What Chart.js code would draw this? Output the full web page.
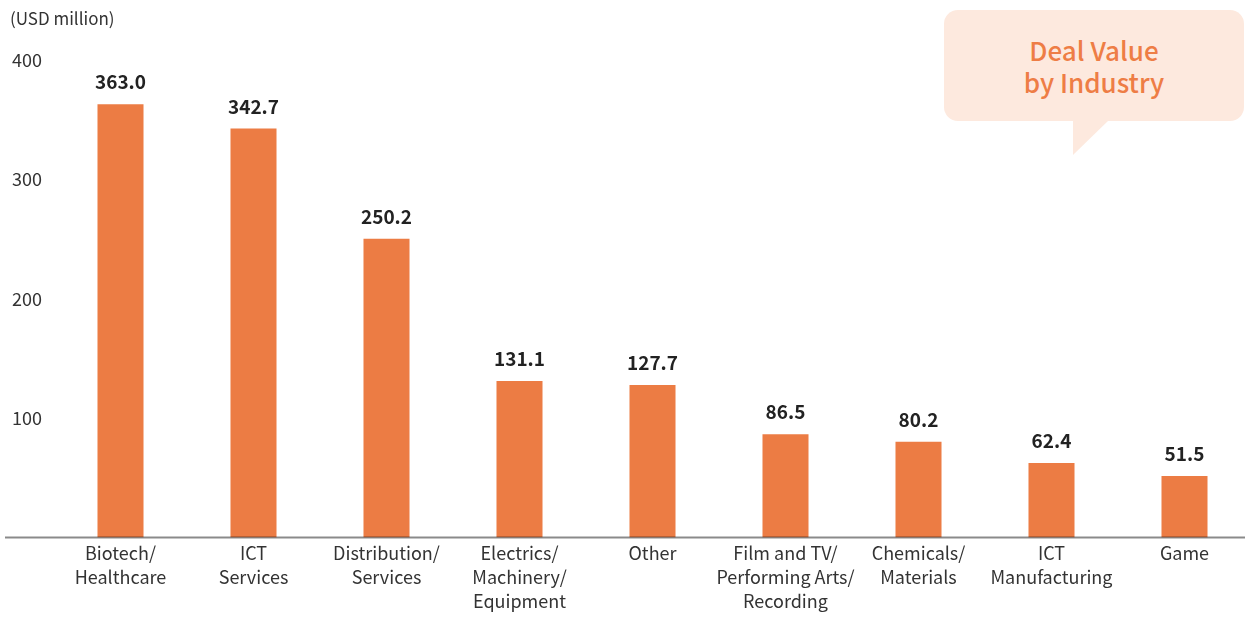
<!DOCTYPE html>
<html>
<head>
<meta charset="utf-8">
<script src="https://cdn.jsdelivr.net/npm/chart.js@4.4.0/dist/chart.umd.min.js"></script>
<style>
    html, body { margin: 0; padding: 0; background: #fff; overflow: hidden; }
    #wrap { position: relative; width: 1251px; height: 617px; }
    #unit {
        position: absolute; left: 10px; top: 5px;
        font: 17px "Noto Sans CJK JP", "Noto Sans", sans-serif; color: #333;
    }
    #callout {
        position: absolute; left: 944px; top: 10px; width: 300px; height: 111px;
        background: #fde9de; border-radius: 14px;
        display: flex; align-items: center; justify-content: center; text-align: center;
        font: 500 26px/32px "Noto Sans CJK JP", "Noto Sans", sans-serif; color: #ee7d45;
    }
    #tail {
        position: absolute; left: 1073px; top: 120px; width: 36px; height: 35px;
        background: #fde9de; clip-path: polygon(0 0, 100% 0, 0 100%);
    }
</style>
</head>
<body>
<div id="wrap">
    <canvas id="chart" width="1251" height="617"></canvas>
    <div id="unit">(USD million)</div>
    <div id="callout"><div>Deal Value<br>by Industry</div></div>
    <div id="tail"></div>
</div>
<script>
const categories = [
    ["Biotech/", "Healthcare"],
    ["ICT", "Services"],
    ["Distribution/", "Services"],
    ["Electrics/", "Machinery/", "Equipment"],
    ["Other"],
    ["Film and TV/", "Performing Arts/", "Recording"],
    ["Chemicals/", "Materials"],
    ["ICT", "Manufacturing"],
    ["Game"]
];
const dealValues = [363.0, 342.7, 250.2, 131.1, 127.7, 86.5, 80.2, 62.4, 51.5];
const yTicks = [100, 200, 300, 400];

const FONT = '"Noto Sans CJK JP", "Noto Sans", sans-serif';

// value labels above each bar
const valueLabels = {
    id: 'valueLabels',
    afterDatasetsDraw(chart) {
        const ctx = chart.ctx;
        const meta = chart.getDatasetMeta(0);
        ctx.save();
        ctx.font = 'bold 19px ' + FONT;
        ctx.fillStyle = '#222';
        ctx.textAlign = 'center';
        ctx.textBaseline = 'middle';
        meta.data.forEach((bar, i) => {
            ctx.fillText(dealValues[i].toFixed(1), bar.x, bar.y - 22);
        });
        ctx.restore();
    }
};

// baseline drawn across the full width, over the bars
const baseline = {
    id: 'baseline',
    afterDatasetsDraw(chart) {
        const ctx = chart.ctx;
        const y = chart.scales.y.getPixelForValue(0);
        ctx.save();
        ctx.strokeStyle = 'rgba(0,0,0,0.46)';
        ctx.lineWidth = 2;
        ctx.beginPath();
        ctx.moveTo(5, y);
        ctx.lineTo(chart.width, y);
        ctx.stroke();
        ctx.restore();
    }
};

new Chart(document.getElementById('chart'), {
    type: 'bar',
    data: {
        labels: categories,
        datasets: [{
            data: dealValues,
            backgroundColor: '#ec7c44',
            categoryPercentage: 1,
            barPercentage: 0.346
        }]
    },
    options: {
        responsive: false,
        animation: false,
        layout: { padding: { top: 60, left: 12, right: 0, bottom: 0 } },
        plugins: { legend: { display: false }, tooltip: { enabled: false } },
        scales: {
            x: {
                grid: { display: false, drawTicks: false },
                border: { display: false },
                ticks: {
                    color: '#333',
                    font: { family: FONT, size: 18, lineHeight: 1.333 },
                    padding: 4,
                    maxRotation: 0,
                    autoSkip: false
                },
                afterFit(scale) { scale.height = 79.5; }
            },
            y: {
                min: 0,
                max: 400,
                grid: { display: false, drawTicks: false },
                border: { display: false },
                afterBuildTicks(scale) {
                    scale.ticks = yTicks.map(v => ({ value: v }));
                },
                ticks: {
                    color: '#333',
                    font: { family: FONT, size: 18 },
                    crossAlign: 'far',
                    padding: 0
                },
                afterFit(scale) { scale.width = 42; }
            }
        }
    },
    plugins: [valueLabels, baseline]
});
</script>
</body>
</html>
